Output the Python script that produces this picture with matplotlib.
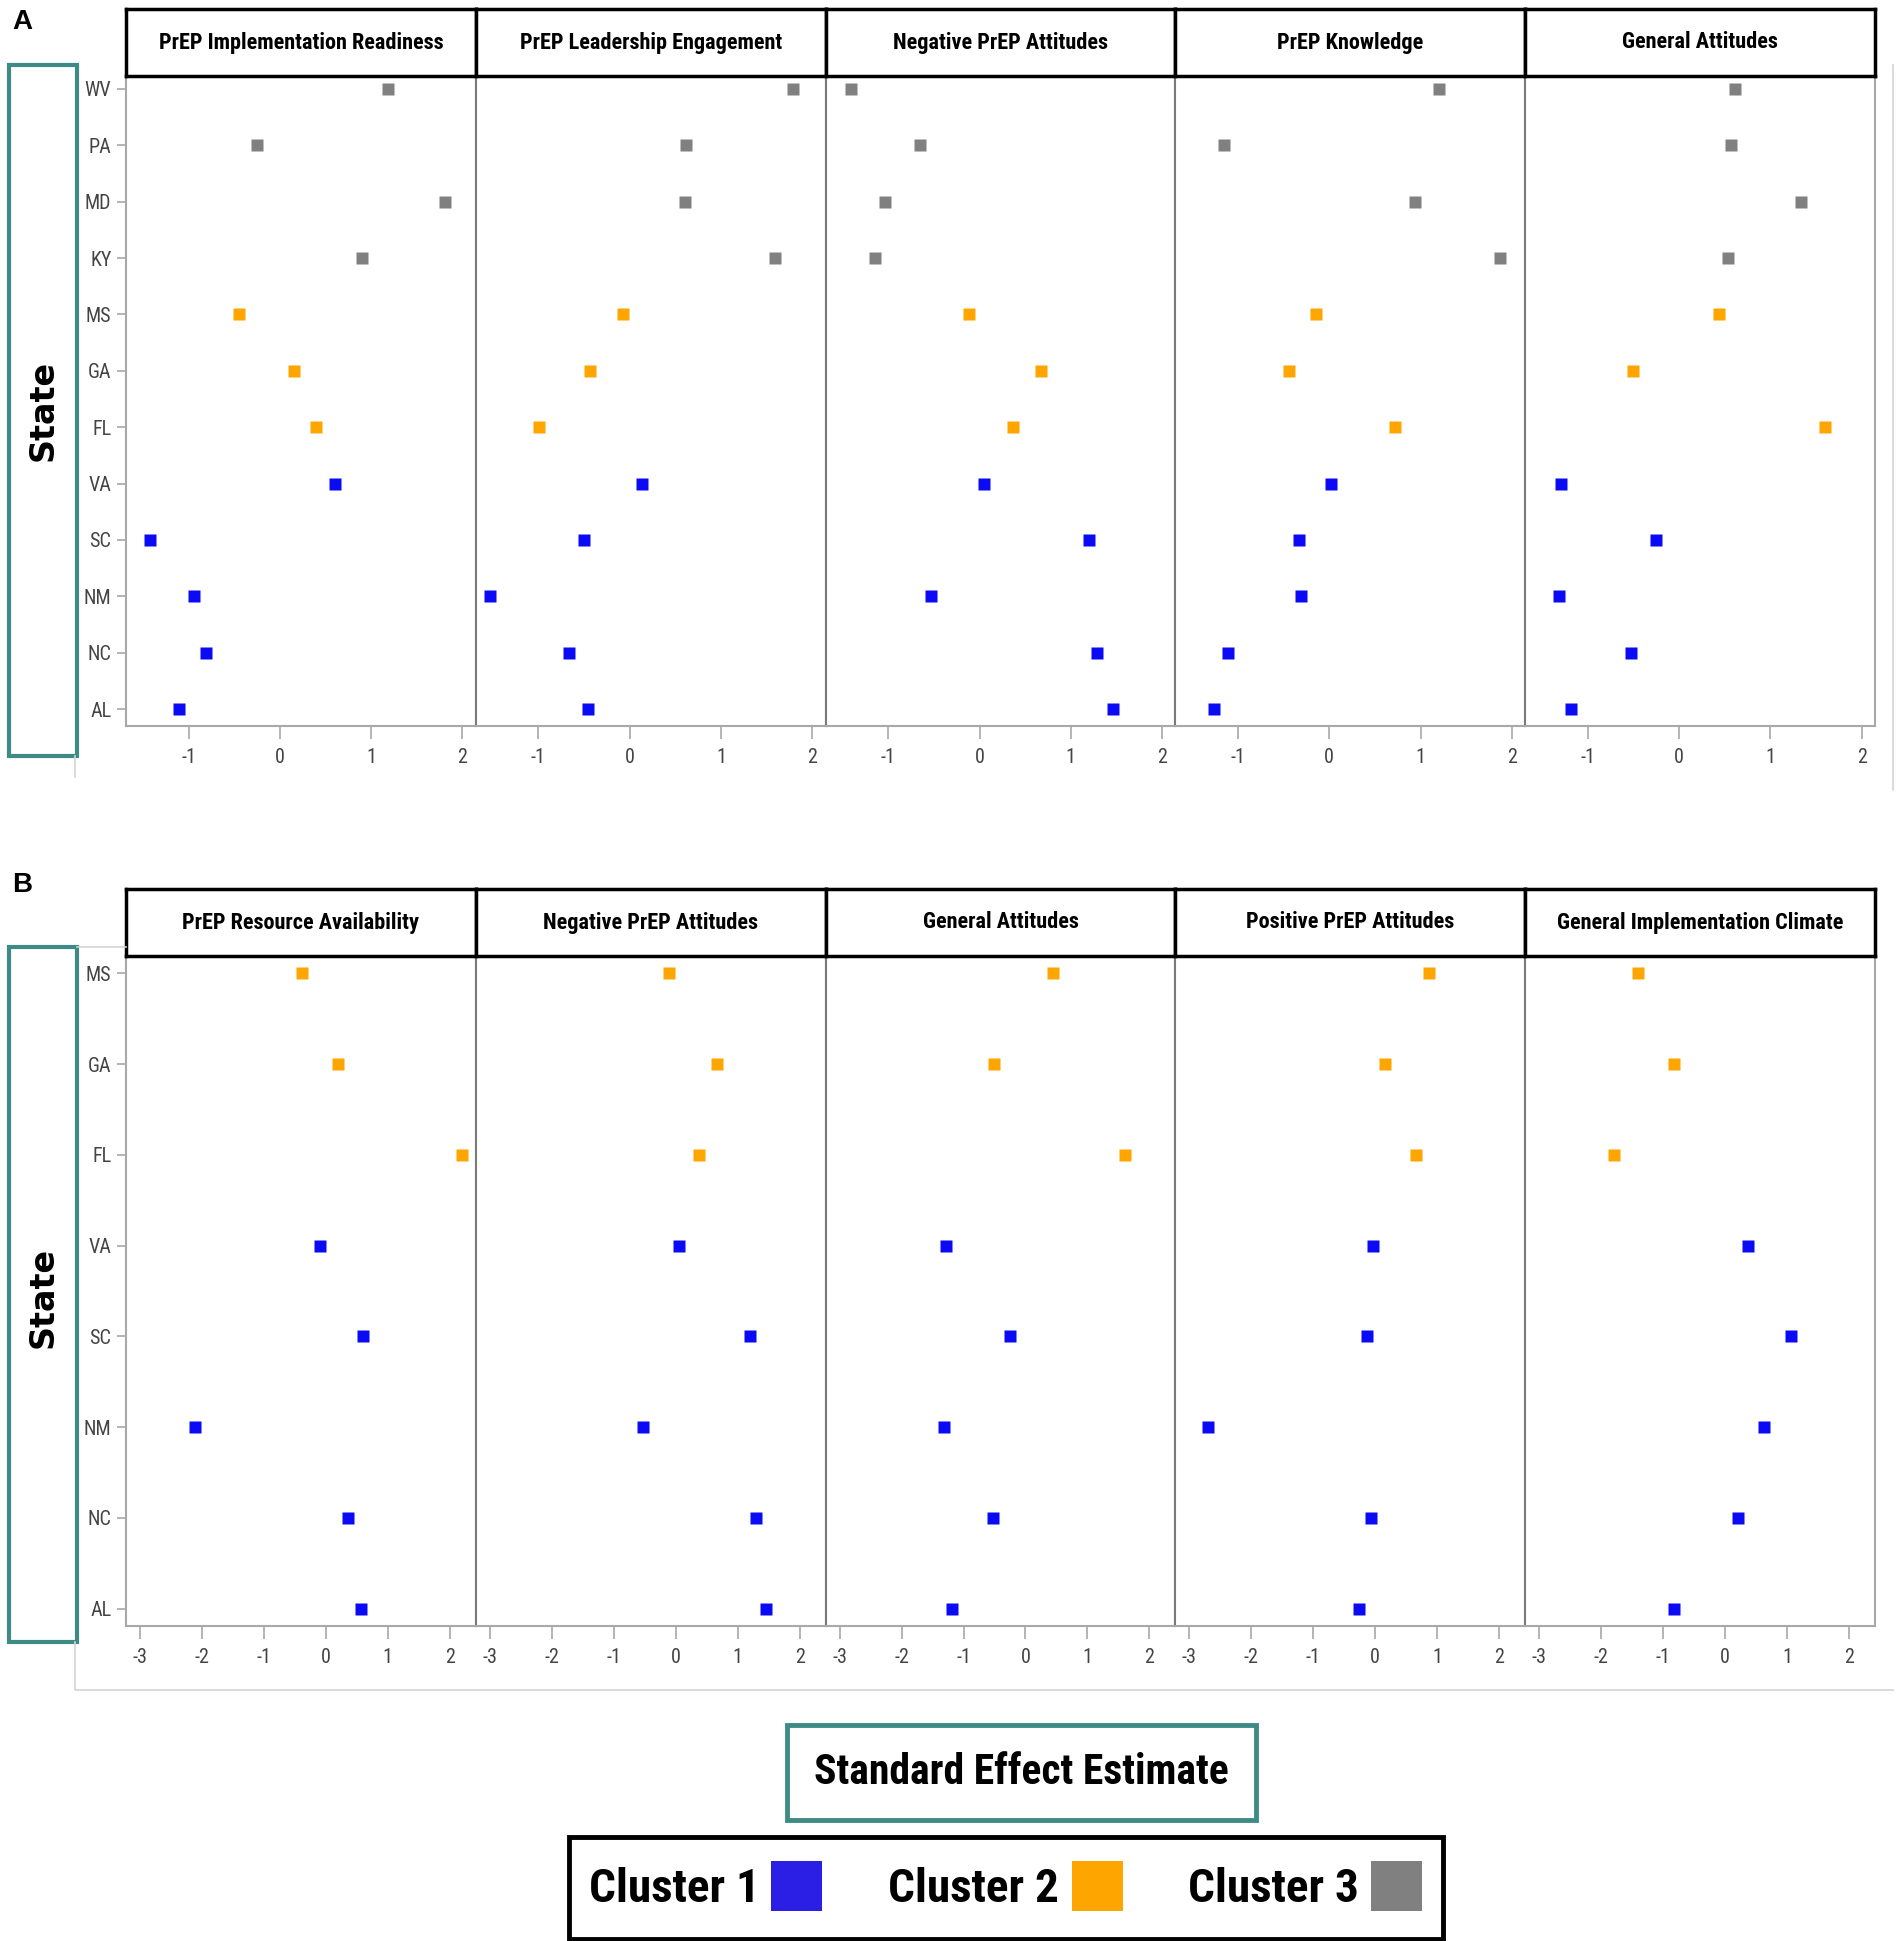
import matplotlib.pyplot as plt
from matplotlib.patches import Rectangle
from matplotlib.lines import Line2D

plt.rcParams['axes.unicode_minus'] = False
NARROW = ['Roboto Condensed', 'Carlito', 'DejaVu Sans']

# ----------- DATA ------------
states_a = ["WV", "PA", "MD", "KY", "MS", "GA", "FL", "VA", "SC", "NM", "NC", "AL"]
cluster_a = [3, 3, 3, 3, 2, 2, 2, 1, 1, 1, 1, 1]
states_b = ["MS", "GA", "FL", "VA", "SC", "NM", "NC", "AL"]
cluster_b = [2, 2, 2, 1, 1, 1, 1, 1]

titles_a = ["PrEP Implementation Readiness", "PrEP Leadership Engagement",
            "Negative PrEP Attitudes", "PrEP Knowledge", "General Attitudes"]
titles_b = ["PrEP Resource Availability", "Negative PrEP Attitudes",
            "General Attitudes", "Positive PrEP Attitudes",
            "General Implementation Climate"]

impl_readiness = [1.18, -0.25, 1.81, 0.90, -0.45, 0.15, 0.39, 0.60, -1.42, -0.94, -0.81, -1.11]
leadership = [1.79, 0.62, 0.61, 1.59, -0.07, -0.43, -0.99, 0.13, -0.50, -1.53, -0.67, -0.46]
neg_attitudes = [-1.41, -0.65, -1.03, -1.14, -0.11, 0.67, 0.37, 0.05, 1.20, -0.53, 1.29, 1.46]
knowledge = [1.20, -1.15, 0.94, 1.87, -0.15, -0.44, 0.72, 0.02, -0.33, -0.31, -1.11, -1.26]
gen_attitudes = [0.61, 0.57, 1.34, 0.54, 0.44, -0.51, 1.60, -1.29, -0.25, -1.32, -0.53, -1.18]

resource_avail = [-0.39, 0.20, 2.19, -0.10, 0.60, -2.11, 0.36, 0.57]
neg_attitudes_b = neg_attitudes[4:]
gen_attitudes_b = gen_attitudes[4:]
pos_attitudes = [0.86, 0.16, 0.66, -0.03, -0.14, -2.70, -0.07, -0.26]
impl_climate = [-1.40, -0.82, -1.80, 0.37, 1.06, 0.63, 0.21, -0.82]

values_a = [impl_readiness, leadership, neg_attitudes, knowledge, gen_attitudes]
values_b = [resource_avail, neg_attitudes_b, gen_attitudes_b, pos_attitudes, impl_climate]

cluster_names = ["Cluster 1", "Cluster 2", "Cluster 3"]
colors = {1: "#0A0AF5", 2: "#FFA500", 3: "#808080"}
legend_colors = ["#2B1FE6", "#FFA500", "#808080"]
TEAL = "#3E8B86"

# ----------- LAYOUT (pixel positions in the 1902 x 1941 picture) ------------
W, H = 1902.0, 1941.0
fig = plt.figure(figsize=(19.02, 19.41), dpi=100)


def fx(x):
    return x / W


def fy(y):
    return 1 - y / H


def draw_row(hdr_top, top, bottom, titles, values, states, clusters, xlim, xticks, pad):
    left, right = 126, 1875
    w = (right - left) / 5
    n = len(states)
    ypos = list(range(n))[::-1]
    for i in range(5):
        ax = fig.add_axes([fx(left + i * w), fy(bottom), w / W, (bottom - top) / H])
        for c in (1, 2, 3):
            xs = [v for v, k in zip(values[i], clusters) if k == c]
            ys = [p for p, k in zip(ypos, clusters) if k == c]
            if xs:
                ax.plot(xs, ys, 's', color=colors[c], ms=8, mec='none')
        ax.set_xlim(*xlim)
        ax.set_ylim(-pad[0], n - 1 + pad[1])
        ax.set_xticks(xticks)
        ax.set_xticklabels([str(t) for t in xticks], family=NARROW,
                           fontsize=14.5, color="#444444")
        ax.set_yticks(ypos)
        if i == 0:
            ax.set_yticklabels(states, family=NARROW, fontsize=14.5, color="#444444")
            ax.tick_params(axis='y', direction='out', length=6.5, width=1.2,
                           color="#A8A8A8", pad=4)
        else:
            ax.tick_params(axis='y', left=False, labelleft=False)
        ax.tick_params(axis='x', direction='out', length=9, width=1.2,
                       color="#A8A8A8", pad=7)
        for s in ax.spines.values():
            s.set_color("#A8A8A8")
            s.set_linewidth(1.5)
        if i > 0:
            ax.spines['left'].set_color("#7A7A7A")

        hax = fig.add_axes([fx(left + i * w), fy(top), w / W, (top - hdr_top) / H])
        hax.set_xticks([])
        hax.set_yticks([])
        for s in hax.spines.values():
            s.set_color("black")
            s.set_linewidth(2.5)
        hax.text(0.5, 0.5, titles[i], ha='center', va='center', fontsize=16,
                 fontweight='bold', family=NARROW, transform=hax.transAxes)


def box(x0, y0, x1, y1, color, lw):
    fig.add_artist(Rectangle((fx(x0), fy(y1)), (x1 - x0) / W, (y1 - y0) / H,
                             transform=fig.transFigure, fill=False,
                             edgecolor=color, linewidth=lw))


def faint_line(xs, ys):
    fig.add_artist(Line2D([fx(x) for x in xs], [fy(y) for y in ys],
                          transform=fig.transFigure, color="#D4D4D4", lw=1.2))


# ----------- PANEL A ------------
draw_row(9, 76, 726, titles_a, values_a, states_a, cluster_a,
         (-1.686, 2.146), [-1, 0, 1, 2], (0.3, 0.23))
fig.text(fx(22), fy(22), "A", fontsize=20, fontweight='bold',
         family='Liberation Sans', ha='center', va='center')
box(9, 65, 77, 756, TEAL, 3)
fig.text(fx(43), fy(410), "State", rotation=90, fontsize=24, fontweight='bold',
         ha='center', va='center')
faint_line([75, 75], [756, 777])
faint_line([1893, 1893], [65, 790])

# ----------- PANEL B ------------
draw_row(889, 956, 1626, titles_b, values_b, states_b, cluster_b,
         (-3.226, 2.42), [-3, -2, -1, 0, 1, 2], (0.19, 0.19))
fig.text(fx(22), fy(885), "B", fontsize=20, fontweight='bold',
         family='Liberation Sans', ha='center', va='center')
box(9, 947, 77, 1642, TEAL, 3)
fig.text(fx(43), fy(1297), "State", rotation=90, fontsize=24, fontweight='bold',
         ha='center', va='center')
faint_line([77, 126], [947, 947])
faint_line([75, 75, 1893], [1642, 1690, 1690])

# ----------- AXIS TITLE AND LEGEND ------------
box(787, 1725, 1256, 1820, TEAL, 3.5)
fig.text(fx(1021), fy(1773), "Standard Effect Estimate", fontsize=30,
         fontweight='bold', family=NARROW, ha='center', va='center')

box(569, 1837, 1443, 1939, "black", 3.5)
text_x = [760, 1059, 1359]
square_x = [771, 1072, 1371]
for name, tx, sx, col in zip(cluster_names, text_x, square_x, legend_colors):
    fig.text(fx(tx), fy(1889), name, fontsize=34, fontweight='bold',
             family=NARROW, ha='right', va='center')
    fig.add_artist(Rectangle((fx(sx), fy(1911)), 51 / W, 50 / H,
                             transform=fig.transFigure, facecolor=col,
                             edgecolor='none'))

fig.savefig("out.png", dpi=100, facecolor="white")
